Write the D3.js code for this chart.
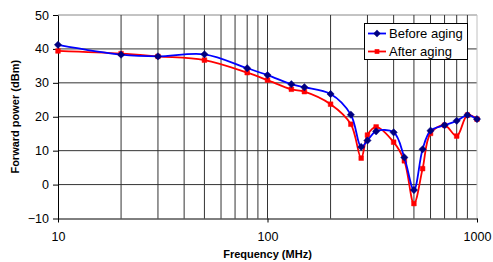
<!DOCTYPE html>
<html>
<head>
<meta charset="utf-8">
<script src="https://cdn.jsdelivr.net/npm/d3@7"></script>
<style>
  body { margin: 0; background: #fff; }
  text { font-family: "Liberation Sans", Arial, sans-serif; fill: #000; }
</style>
</head>
<body>
<svg id="chart"></svg>
<script>
// Data
const freqs = [10, 20, 30, 50, 80, 100, 130, 150, 200, 250, 280, 300, 330, 400, 450, 500, 550, 600, 700, 800, 900, 1000];
const beforeAging = [41.2, 38.3, 37.8, 38.4, 34.3, 32.3, 29.6, 28.7, 26.7, 20.6, 11.1, 13.0, 15.7, 15.4, 8.0, -1.6, 10.4, 15.9, 17.5, 18.8, 20.5, 19.3];
const afterAging = [39.4, 38.6, 37.8, 36.7, 33.0, 30.8, 28.1, 27.4, 23.7, 17.8, 7.8, 14.6, 17.0, 12.5, 7.0, -5.6, 4.7, 15.1, 17.5, 14.3, 20.5, 19.3];
const seriesNames = ["Before aging", "After aging"];
const yTicks = [-10, 0, 10, 20, 30, 40, 50];
const xTicks = [10, 100, 1000];
const xGrid = [20, 30, 40, 50, 60, 70, 80, 90, 100, 200, 300, 400, 500, 600, 700, 800, 900];

const config = {
  width: 493,
  height: 262,
  margin: { top: 15, right: 16, bottom: 43.5, left: 58 }
};

const width = config.width - config.margin.left - config.margin.right;
const height = config.height - config.margin.top - config.margin.bottom;

const svg = d3.select("#chart")
  .attr("width", config.width)
  .attr("height", config.height);

const chart = svg.append("g")
  .attr("transform", `translate(${config.margin.left},${config.margin.top})`);

// Scales
const xScale = d3.scaleLog().domain([10, 1000]).range([0, width]);
const yScale = d3.scaleLinear().domain([-10, 50]).range([height, 0]);

// Grid lines
chart.append("g")
  .selectAll("line")
  .data(yTicks.filter(d => d > -10))
  .join("line")
  .attr("x1", 0)
  .attr("x2", width)
  .attr("y1", d => yScale(d))
  .attr("y2", d => yScale(d))
  .attr("stroke", d => d === 50 ? "#888" : "#333")
  .attr("stroke-width", 1);

chart.append("g")
  .selectAll("line")
  .data(xGrid)
  .join("line")
  .attr("x1", d => xScale(d))
  .attr("x2", d => xScale(d))
  .attr("y1", 0)
  .attr("y2", height)
  .attr("stroke", "#333")
  .attr("stroke-width", 1);

// right edge, light
chart.append("line")
  .attr("x1", xScale(1000))
  .attr("x2", xScale(1000))
  .attr("y1", 0)
  .attr("y2", height)
  .attr("stroke", "#c0c0c0");

// Axes
const xAxis = d3.axisBottom(xScale)
  .tickValues(xTicks)
  .tickFormat(d3.format("d"))
  .tickSizeInner(4)
  .tickSizeOuter(0)
  .tickPadding(10);
const yAxis = d3.axisLeft(yScale)
  .tickValues(yTicks)
  .tickSizeInner(5)
  .tickSizeOuter(0)
  .tickPadding(4);

const xAxisG = chart.append("g")
  .attr("transform", `translate(0,${height})`)
  .call(xAxis);
const yAxisG = chart.append("g").call(yAxis);

[xAxisG, yAxisG].forEach(g => {
  g.selectAll("path").attr("stroke", "#000");
  g.selectAll("line").attr("stroke", "#000");
  g.selectAll("text")
    .style("font-size", "12.5px")
    .style("font-family", "Liberation Sans, Arial, sans-serif");
});

// Axis titles
svg.append("text")
  .attr("x", config.margin.left + xScale(100))
  .attr("y", 258)
  .attr("text-anchor", "middle")
  .style("font-size", "11px")
  .style("font-weight", "bold")
  .text("Frequency (MHz)");

svg.append("text")
  .attr("transform", `translate(19,${config.margin.top + height / 2}) rotate(-90)`)
  .attr("text-anchor", "middle")
  .style("font-size", "11px")
  .style("font-weight", "bold")
  .text("Forward power (dBm)");

// Series
const series = [
  { name: seriesNames[0], values: beforeAging, line: "#0000ff", marker: "#000080", symbol: d3.symbolDiamond2, size: 34 },
  { name: seriesNames[1], values: afterAging, line: "#ff0000", marker: "#ff0000", symbol: d3.symbolSquare, size: 22 }
];

const lineGen = d3.line()
  .x(d => xScale(d.f))
  .y(d => yScale(d.v))
  .curve(d3.curveCatmullRom.alpha(0.5));

// draw after first so before is on top
series.slice().reverse().forEach(s => {
  const pts = freqs.map((f, i) => ({ f: f, v: s.values[i] }));
  chart.append("path")
    .datum(pts)
    .attr("fill", "none")
    .attr("stroke", s.line)
    .attr("stroke-width", 1.8)
    .attr("d", lineGen);
  chart.append("g")
    .selectAll("path")
    .data(pts)
    .join("path")
    .attr("transform", d => `translate(${xScale(d.f)},${yScale(d.v)})`)
    .attr("d", d3.symbol(s.symbol, s.size))
    .attr("fill", s.marker)
    .attr("stroke", s.marker)
    .attr("stroke-width", 0.5);
});

// Legend
const legend = svg.append("g").attr("transform", "translate(364,23)");
legend.append("rect")
  .attr("x", 0.5)
  .attr("y", 0.5)
  .attr("width", 103)
  .attr("height", 36)
  .attr("fill", "#fff")
  .attr("stroke", "#000");

series.forEach((s, i) => {
  const g = legend.append("g").attr("transform", `translate(0,${10.5 + i * 18})`);
  g.append("line")
    .attr("x1", 4)
    .attr("x2", 22)
    .attr("stroke", s.line)
    .attr("stroke-width", 1.8);
  g.append("path")
    .attr("transform", "translate(13,0)")
    .attr("d", d3.symbol(s.symbol, s.size))
    .attr("fill", s.marker);
  g.append("text")
    .attr("x", 25)
    .attr("y", 4.5)
    .style("font-size", "13px")
    .text(s.name);
});
</script>
</body>
</html>
